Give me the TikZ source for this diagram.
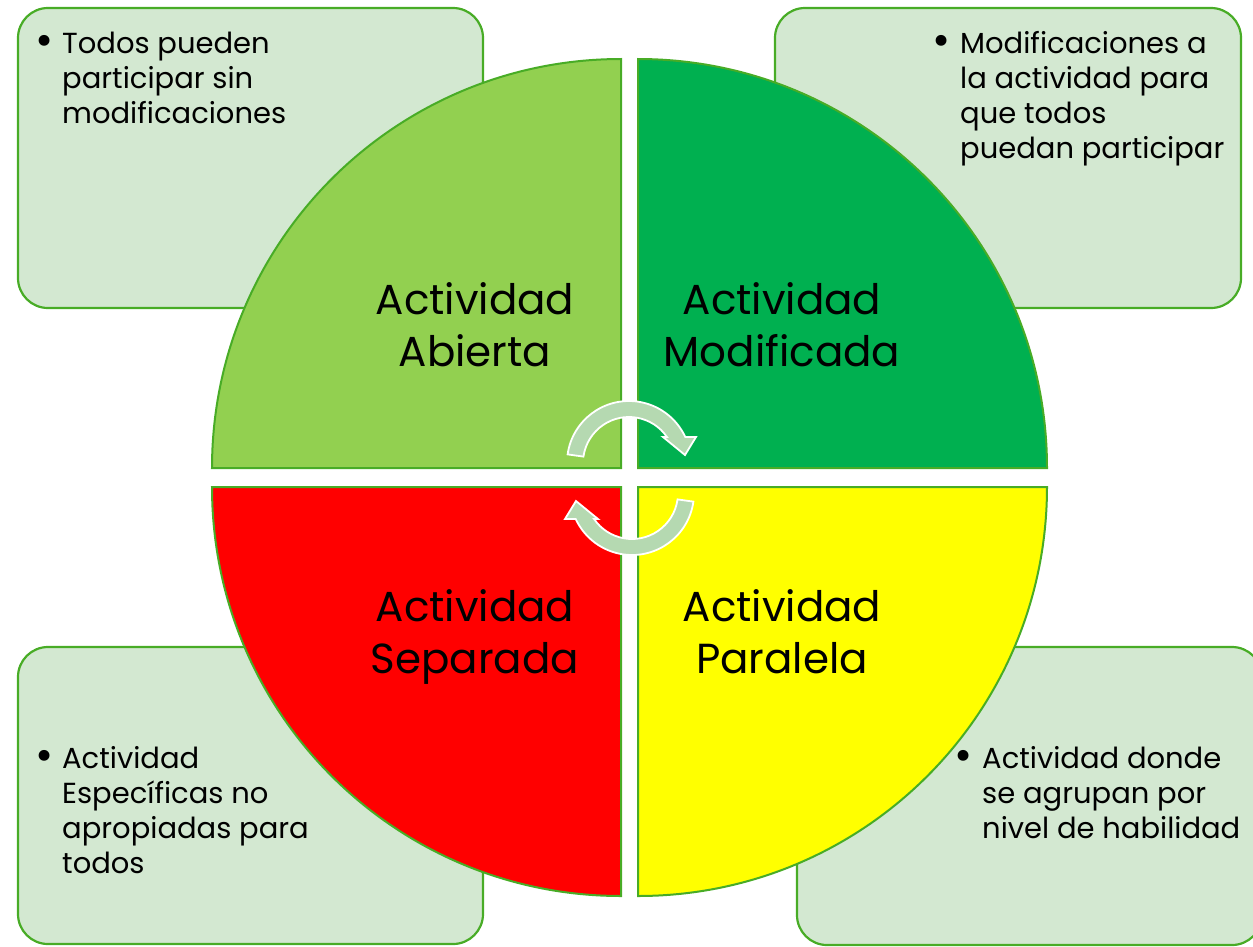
\documentclass[tikz,border=0pt]{standalone}
\usepackage{fontspec}
\setmainfont{Poppins}
\definecolor{edgegreen}{RGB}{72,172,38}
\definecolor{boxfill}{RGB}{211,232,209}
\definecolor{qlight}{HTML}{92D050}
\definecolor{qdark}{HTML}{00B050}
\definecolor{qred}{HTML}{FF0000}
\definecolor{qyellow}{HTML}{FFFF00}
\definecolor{arrowfill}{RGB}{181,217,177}
\tikzset{
  infobox/.style={draw=edgegreen, fill=boxfill, line width=2.2pt, rounded corners=30pt},
  quad/.style={draw=edgegreen, line width=2pt},
  cyclearrow/.style={fill=arrowfill, draw=white, line width=1.8pt, line join=miter},
  bul/.style={anchor=base, inner sep=0pt, font=\fontsize{44}{44}\selectfont},
  small/.style={anchor=base west, inner sep=0pt, font=\fontsize{29}{35.3}\selectfont},
  big/.style={anchor=base, inner sep=0pt, font=\fontsize{42}{52}\selectfont}
}
\begin{document}
\begin{tikzpicture}[x=1pt,y=-1pt]
\useasboundingbox (0,0) rectangle (1253,946);
\clip (0,0) rectangle (1253,946);
% info boxes
\draw[infobox] (18,8) rectangle (483,308);
\draw[infobox] (775,8) rectangle (1241,308);
\draw[infobox] (18,647) rectangle (483,944);
\draw[infobox] (797,647) rectangle (1262,945);
% quadrants
\draw[quad, fill=qlight] (621,468) -- (212,468) arc[start angle=180, end angle=270, radius=409] -- cycle;
\draw[quad, fill=qdark] (638,468) -- (638,59) arc[start angle=270, end angle=360, radius=409] -- cycle;
\draw[quad, fill=qred] (621,487) -- (212,487) arc[start angle=180, end angle=90, radius=409] -- cycle;
\draw[quad, fill=qyellow] (638,487) -- (1047,487) arc[start angle=0, end angle=90, radius=409] -- cycle;
% circular arrows
\begin{scope}[shift={(629,463)}, yscale=-1]
  \draw[cyclearrow] (172:62) arc[start angle=172, end angle=24.8, radius=62]
    -- (67,26) -- (56,8) -- (34,26) -- (34.4:46)
    arc[start angle=34.4, end angle=172, radius=46] -- cycle;
\end{scope}
\begin{scope}[shift={(632,493)}, yscale=-1, rotate=180]
  \draw[cyclearrow] (172:62) arc[start angle=172, end angle=24.8, radius=62]
    -- (67,26) -- (56,8) -- (34,26) -- (34.4:46)
    arc[start angle=34.4, end angle=172, radius=46] -- cycle;
\end{scope}
% big labels
\node[big] (abierta) at (475,314) {\begin{tabular}[t]{@{}c@{}}Actividad\\Abierta\end{tabular}};
\node[big] (modificada) at (782,314) {\begin{tabular}[t]{@{}c@{}}Actividad\\Modificada\end{tabular}};
\node[big] (separada) at (475,621) {\begin{tabular}[t]{@{}c@{}}Actividad\\Separada\end{tabular}};
\node[big] (paralela) at (782,621) {\begin{tabular}[t]{@{}c@{}}Actividad\\Paralela\end{tabular}};
% box texts
\node[bul] (tlb) at (45,55) {•};
\node[small] (tlt) at (62,53) {\begin{tabular}[t]{@{}l@{}}Todos pueden\\participar sin\\modificaciones\end{tabular}};
\node[bul] (trb) at (942,55) {•};
\node[small] (trt) at (960,53) {\begin{tabular}[t]{@{}l@{}}Modificaciones a\\la actividad para\\que todos\\puedan participar\end{tabular}};
\node[bul] (blb) at (45,770) {•};
\node[small] (blt) at (62,768) {\begin{tabular}[t]{@{}l@{}}Actividad\\Específicas no\\apropiadas para\\todos\end{tabular}};
\node[bul] (brb) at (964,770) {•};
\node[small] (brt) at (982,768) {\begin{tabular}[t]{@{}l@{}}Actividad donde\\se agrupan por\\nivel de habilidad\end{tabular}};
\end{tikzpicture}
\end{document}
